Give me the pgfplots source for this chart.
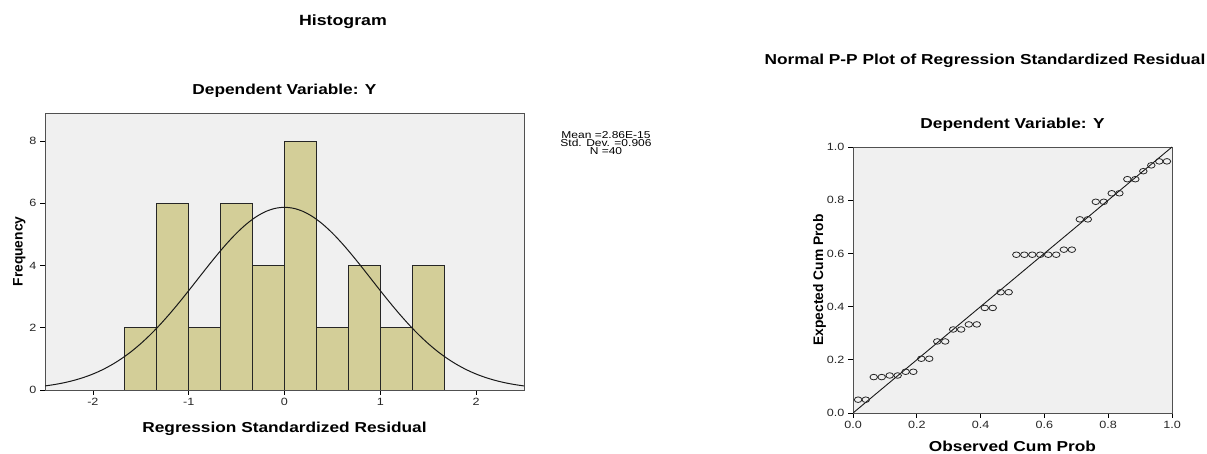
\documentclass[border=0pt]{standalone}
\usepackage{fontspec}
\setmainfont{Liberation Sans}[FakeStretch=1.2]
\newfontfamily\plainsf{Liberation Sans}
\usepackage{pgfplots}
\pgfplotsset{compat=1.18}
\definecolor{bgc}{RGB}{240,240,240}
\definecolor{barc}{RGB}{211,206,152}
\definecolor{framec}{RGB}{80,80,80}

\pgfplotstableread{
x y
0.016 0.050
0.040 0.050
0.065 0.135
0.090 0.135
0.115 0.141
0.140 0.141
0.165 0.155
0.189 0.155
0.214 0.204
0.239 0.204
0.264 0.269
0.289 0.269
0.314 0.314
0.339 0.314
0.363 0.333
0.388 0.333
0.413 0.395
0.438 0.395
0.463 0.454
0.488 0.454
0.512 0.595
0.537 0.595
0.562 0.595
0.587 0.595
0.612 0.595
0.637 0.595
0.661 0.614
0.686 0.614
0.711 0.728
0.736 0.728
0.761 0.794
0.786 0.794
0.811 0.826
0.835 0.826
0.860 0.879
0.885 0.879
0.910 0.909
0.935 0.931
0.960 0.946
0.984 0.946
}\pptable

\begin{document}
\begin{tikzpicture}
\path[use as bounding box] (0,0) rectangle (1207pt,454pt);
\pgfplotsset{spss/.style={
  scale only axis,
  axis background/.style={fill=bgc},
  axis line style={framec, line width=0.9pt},
  tick align=outside, xtick pos=bottom, ytick pos=left,
  major tick length=5pt, tick style={black, line width=0.8pt},
  /pgf/number format/assume math mode=true,
  ticklabel style={font=\fontsize{10.5}{11}\selectfont, text=black!85},
  xlabel style={font=\bfseries\fontsize{14.4}{16}\selectfont, anchor=base},
  ylabel style={font=\plainsf\bfseries\fontsize{13.8}{16}\selectfont, anchor=base},
  title style={font=\bfseries\fontsize{14.4}{16}\selectfont, at={(axis description cs:0.5,1)}, anchor=base, yshift=12pt},
}}

\node[anchor=base, font=\bfseries\fontsize{14.8}{16}\selectfont] at (343pt,428pt) {Histogram};
\node[anchor=base, font=\bfseries\fontsize{14.4}{16}\selectfont] at (985pt,389pt) {Normal P-P Plot of Regression Standardized Residual};
\node[align=center, font=\fontsize{10}{8.3}\selectfont, inner sep=0pt] at (606pt,311pt) {Mean =2.86E-15\\Std. Dev. =0.906\\N =40};

\begin{axis}[spss, at={(45pt,64pt)}, anchor=south west, width=479pt, height=277pt,
  xmin=-2.5, xmax=2.5, ymin=0, ymax=8.9,
  xtick={-2,-1,0,1,2}, ytick={0,2,4,6,8},
  title={Dependent Variable: Y},
  xlabel={Regression Standardized Residual},
  xlabel style={at={(axis description cs:0.5,-0.154)}},
  ylabel={Frequency},
  ylabel style={at={(axis description cs:-0.0466,0.5)}},
]
\addplot[ybar interval, fill=barc, draw=black!85, line width=0.8pt] coordinates {
(-1.6667,2) (-1.3333,6) (-1,2) (-0.6667,6) (-0.3333,4) (0,8) (0.3333,2) (0.6667,4) (1,2) (1.3333,4) (1.6667,4)};
\addplot[black!90, line width=1pt, smooth, no marks] coordinates {
(-2.5,0.130) (-2.4,0.176) (-2.3,0.234) (-2.2,0.308) (-2.1,0.400) (-2.0,0.513)
(-1.9,0.651) (-1.8,0.816) (-1.7,1.010) (-1.6,1.234) (-1.5,1.491) (-1.4,1.779)
(-1.3,2.097) (-1.2,2.442) (-1.1,2.809) (-1.0,3.192) (-0.9,3.584) (-0.8,3.975)
(-0.7,4.355) (-0.6,4.714) (-0.5,5.041) (-0.4,5.325) (-0.3,5.557) (-0.2,5.729)
(-0.1,5.834) (0,5.870) (0.1,5.834) (0.2,5.729) (0.3,5.557) (0.4,5.325)
(0.5,5.041) (0.6,4.714) (0.7,4.355) (0.8,3.975) (0.9,3.584) (1.0,3.192)
(1.1,2.809) (1.2,2.442) (1.3,2.097) (1.4,1.779) (1.5,1.491) (1.6,1.234)
(1.7,1.010) (1.8,0.816) (1.9,0.651) (2.0,0.513) (2.1,0.400) (2.2,0.308)
(2.3,0.234) (2.4,0.176) (2.5,0.130)};
\end{axis}

\begin{axis}[spss, at={(853pt,41pt)}, anchor=south west, width=319pt, height=266pt,
  xmin=0, xmax=1, ymin=0, ymax=1,
  xtick={0,0.2,0.4,0.6,0.8,1}, xticklabels={0.0,0.2,0.4,0.6,0.8,1.0},
  ytick={0,0.2,0.4,0.6,0.8,1}, yticklabels={0.0,0.2,0.4,0.6,0.8,1.0},
  title={Dependent Variable: Y},
  xlabel={Observed Cum Prob},
  xlabel style={at={(axis description cs:0.5,-0.1447)}},
  ylabel={Expected Cum Prob},
  ylabel style={at={(axis description cs:-0.094,0.5)}},
]
\addplot[black!90, line width=0.9pt] coordinates {(0,0) (1,1)};
\addplot[only marks, mark=o, mark size=2.8pt, mark options={xscale=1.35, line width=0.8pt, black!85}] table[x=x, y=y] {\pptable};
\end{axis}
\end{tikzpicture}
\end{document}
